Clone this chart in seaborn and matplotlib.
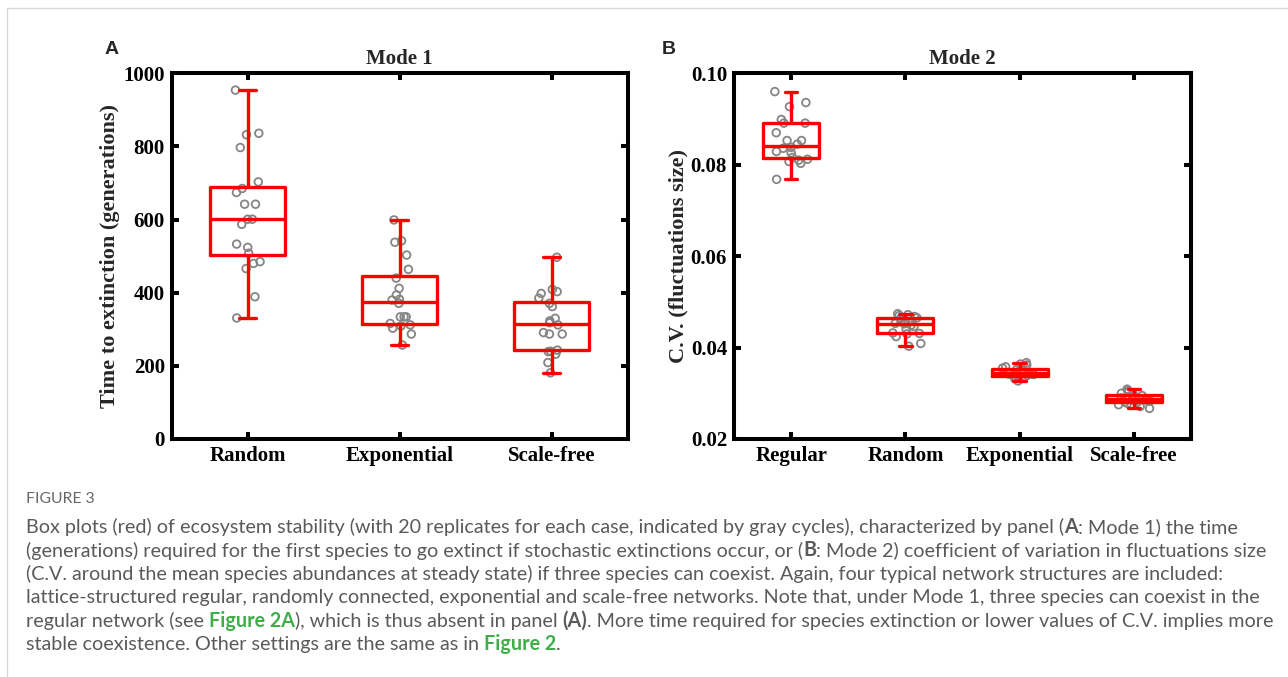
import numpy as np
import pandas as pd
import matplotlib
matplotlib.use("Agg")
import matplotlib.pyplot as plt
import matplotlib.font_manager as fm
import seaborn as sns

# ---------------- data ----------------
cats_a = ["Random", "Exponential", "Scale-free"]
mode1_random = [331, 389, 466, 480, 485, 508, 524, 533, 587, 601,
                601, 642, 642, 674, 685, 703, 797, 832, 836, 954]
mode1_exponential = [257, 287, 303, 309, 312, 316, 334, 334, 334, 371,
                     380, 382, 394, 412, 440, 464, 503, 538, 542, 599]
mode1_scalefree = [181, 209, 232, 239, 240, 243, 287, 287, 291, 312,
                   318, 323, 330, 362, 371, 385, 398, 403, 409, 497]

cats_b = ["Regular", "Random", "Exponential", "Scale-free"]
mode2_regular = [0.0768, 0.0803, 0.0807, 0.0810, 0.0812, 0.0816, 0.0826, 0.0829, 0.0836, 0.0838,
                 0.0845, 0.0853, 0.0853, 0.0870, 0.0891, 0.0891, 0.0899, 0.0927, 0.0936, 0.0960]
mode2_random = [0.0403, 0.0409, 0.0424, 0.0430, 0.0431, 0.0432, 0.0440, 0.0446, 0.0449, 0.0452,
                0.0453, 0.0455, 0.0457, 0.0460, 0.0464, 0.0465, 0.0468, 0.0470, 0.0472, 0.0474]
mode2_exponential = [0.0327, 0.0333, 0.0336, 0.0336, 0.0338, 0.0339, 0.0340, 0.0341, 0.0342, 0.0343,
                     0.0345, 0.0346, 0.0348, 0.0350, 0.0352, 0.0355, 0.0358, 0.0362, 0.0364, 0.0367]
mode2_scalefree = [0.0267, 0.0271, 0.0275, 0.0278, 0.0280, 0.0281, 0.0283, 0.0284, 0.0285, 0.0286,
                   0.0288, 0.0290, 0.0292, 0.0294, 0.0295, 0.0297, 0.0300, 0.0303, 0.0306, 0.0309]

yticks_a = [0, 200, 400, 600, 800, 1000]
yticks_b = [0.02, 0.04, 0.06, 0.08, 0.10]

caption_title = "FIGURE 3"
caption_lines = [
    [("Box plots (red) of ecosystem stability (with 20 replicates for each case, indicated by gray cycles), characterized by panel (", "n"),
     ("A", "b"), (": Mode 1) the time", "n")],
    [("(generations) required for the first species to go extinct if stochastic extinctions occur, or (", "n"),
     ("B", "b"), (": Mode 2) coefficient of variation in fluctuations size", "n")],
    [("(C.V. around the mean species abundances at steady state) if three species can coexist. Again, four typical network structures are included:", "n")],
    [("lattice-structured regular, randomly connected, exponential and scale-free networks. Note that, under Mode 1, three species can coexist in the", "n")],
    [("regular network (see ", "n"), ("Figure 2A", "g"), ("), which is thus absent in panel ", "n"), ("(A)", "b"),
     (". More time required for species extinction or lower values of C.V. implies more", "n")],
    [("stable coexistence. Other settings are the same as in ", "n"), ("Figure 2", "g"), (".", "n")],
]

dfA = pd.DataFrame({"network": np.repeat(cats_a, 20),
                    "value": np.concatenate([mode1_random, mode1_exponential, mode1_scalefree])})
dfB = pd.DataFrame({"network": np.repeat(cats_b, 20),
                    "value": np.concatenate([mode2_regular, mode2_random, mode2_exponential, mode2_scalefree])})

# ---------------- style ----------------
sns.set_theme(style="white")
plt.rcParams['font.family'] = ['Liberation Serif', 'DejaVu Serif']

W, H = 1288, 677
fig = plt.figure(figsize=(W / 100, H / 100), dpi=100)
fig.patch.set_facecolor("white")

axA = fig.add_axes([171.7 / W, 1 - 439 / H, 456 / W, 365.7 / H])
axB = fig.add_axes([734 / W, 1 - 439 / H, 457 / W, 365.7 / H])

RED = "#ff0000"
GRAY = "#858585"
FS = 15


def panel(ax, df, order, ylim, yticks, fmt, ylabel, title, jitter, label_px):
    np.random.seed(7)
    sns.stripplot(data=df, x="network", y="value", order=order, ax=ax,
                  jitter=jitter, size=5.5, color=GRAY, linewidth=0)
    for coll in ax.collections:
        coll.set_facecolor("none")
        coll.set_edgecolor(GRAY)
        coll.set_linewidth(1.3)
        coll.set_zorder(1)
    sns.boxplot(data=df, x="network", y="value", order=order, ax=ax,
                width=0.49, whis=(0, 100), fill=False, color=RED, linecolor=RED,
                linewidth=2.4, showfliers=False, capwidths=0.11)
    for ln in ax.lines:
        ln.set_zorder(4)
    for p in ax.patches:
        p.set_zorder(4)
    ax.set_xlim(-0.5, len(order) - 0.5)
    ax.set_ylim(*ylim)
    ax.set_yticks(yticks)
    ax.set_yticklabels([fmt(v) for v in yticks])
    ax.set_xlabel("")
    ax.set_ylabel(ylabel, fontsize=16, fontweight="bold", va="center")
    pos = ax.get_position()
    ax.yaxis.set_label_coords((label_px / W - pos.x0) / pos.width, 0.5)
    ax.set_title(title, fontsize=FS, fontweight="bold", pad=7)
    for sp in ax.spines.values():
        sp.set_visible(True)
        sp.set_color("black")
        sp.set_linewidth(2.9)
        sp.set_zorder(5)
    ax.tick_params(direction="in", length=5, width=2.9, top=True, right=True,
                   bottom=True, left=True, labelsize=FS, colors="black", pad=5)
    for lbl in ax.get_xticklabels() + ax.get_yticklabels():
        lbl.set_fontweight("bold")
    ax.grid(False)


panel(axA, dfA, cats_a, (0, 1000), yticks_a, lambda v: f"{v:d}",
      "Time to extinction (generations)", "Mode 1", 0.085, 110)
panel(axB, dfB, cats_b, (0.02, 0.10), yticks_b, lambda v: f"{v:.2f}",
      "C.V. (fluctuations size)", "Mode 2", 0.15, 678)

# panel letters
fig.text(112 / W, 1 - 50 / H, "A", fontsize=14, fontweight="bold",
         family=["Liberation Sans", "DejaVu Sans"], ha="center", va="center")
fig.text(669 / W, 1 - 50 / H, "B", fontsize=14, fontweight="bold",
         family=["Liberation Sans", "DejaVu Sans"], ha="center", va="center")

# page border lines
fig.add_artist(plt.Line2D([7 / W, 7 / W], [0, 1 - 8 / H], color="#d9d9d9", lw=1))
fig.add_artist(plt.Line2D([7 / W, 1], [1 - 8 / H, 1 - 8 / H], color="#d9d9d9", lw=1))

# ---------------- caption ----------------
names = {f.name for f in fm.fontManager.ttflist}
cap_family = "Liberation Sans Narrow" if "Liberation Sans Narrow" in names else "Lato"
fig.canvas.draw()
rend = fig.canvas.get_renderer()
CAP_GRAY = "#5a5a5a"
GREEN = "#3fae49"


def seg_width(txt, fs, weight):
    t = fig.text(0, 0, "|" + txt + "|", fontsize=fs, fontweight=weight, family=cap_family)
    t2 = fig.text(0, 0, "||", fontsize=fs, fontweight=weight, family=cap_family)
    w = t.get_window_extent(rend).width - t2.get_window_extent(rend).width
    t.remove()
    t2.remove()
    return w


# fit font size so the second line spans the measured width
target = 1262 - 26
fs0 = 12.0
full2 = caption_lines[1]
w0 = sum(seg_width(s, fs0, "bold" if k == "b" else "normal") for s, k in full2)
cap_fs = fs0 * target / w0

x0 = 26
ys = [527, 550.5, 574, 597.5, 621, 644.5]
for segs, y in zip(caption_lines, ys):
    x = x0
    for s, k in segs:
        weight = "bold" if k in ("b", "g") else "normal"
        color = GREEN if k == "g" else CAP_GRAY
        fig.text(x / W, 1 - y / H, s, fontsize=cap_fs, fontweight=weight, color=color,
                 family=cap_family, va="center", ha="left")
        x += seg_width(s, cap_fs, weight)

fig.text(x0 / W, 1 - 499 / H, caption_title, fontsize=cap_fs * 0.8, color="#666666",
         family=cap_family, va="center", ha="left")

fig.savefig("out.png", dpi=100, facecolor="white")
